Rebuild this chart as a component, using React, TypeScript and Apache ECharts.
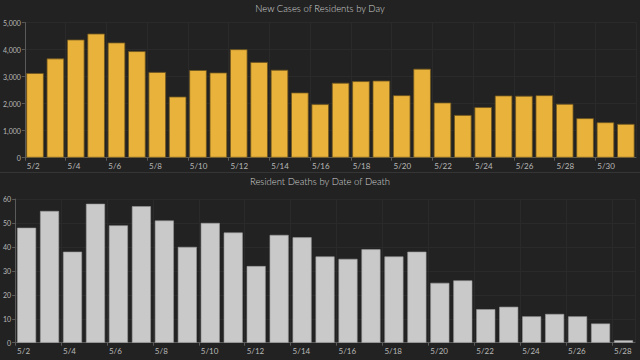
import React, { useEffect, useRef } from "react";
import * as echarts from "echarts";

const caseDates = [
  "5/2","5/3","5/4","5/5","5/6","5/7","5/8","5/9","5/10","5/11",
  "5/12","5/13","5/14","5/15","5/16","5/17","5/18","5/19","5/20","5/21",
  "5/22","5/23","5/24","5/25","5/26","5/27","5/28","5/29","5/30","5/31",
];
const newCases = [
  3130, 3670, 4370, 4590, 4260, 3940, 3170, 2260, 3240, 3150,
  4010, 3540, 3250, 2410, 1980, 2770, 2830, 2850, 2310, 3290,
  2040, 1580, 1870, 2300, 2290, 2310, 1990, 1460, 1310, 1250,
];
const deathDates = [
  "5/2","5/3","5/4","5/5","5/6","5/7","5/8","5/9","5/10","5/11",
  "5/12","5/13","5/14","5/15","5/16","5/17","5/18","5/19","5/20","5/21",
  "5/22","5/23","5/24","5/25","5/26","5/27","5/28",
];
const deaths = [
  48, 55, 38, 58, 49, 57, 51, 40, 50, 46,
  32, 45, 44, 36, 35, 39, 36, 38, 25, 26,
  14, 15, 11, 12, 11, 8, 1,
];

const FONT = "Lato, 'Open Sans', sans-serif";
const LABEL = "#b8b8b8";
const AXIS = "#5a5a5a";
const GRID = "#2a2a2a";

export default function App() {
  const ref = useRef<HTMLDivElement>(null);
  useEffect(() => {
    if (!ref.current) return;
    const chart = echarts.init(ref.current, null, { renderer: "svg" });
    const xAxisBase = (dates: string[], gridIndex: number) => ({
      type: "value",
      gridIndex,
      min: 0,
      max: dates.length,
      interval: 2,
      axisLine: { show: true, lineStyle: { color: AXIS, width: 1 } },
      axisTick: { show: true, length: 3, lineStyle: { color: AXIS } },
      splitLine: { show: true, lineStyle: { color: GRID, width: 1 } },
      axisLabel: {
        show: true,
        color: LABEL,
        fontSize: 8,
        fontFamily: FONT,
        align: "left",
        margin: 4,
        padding: [0, 0, 0, 2],
        showMaxLabel: false,
        formatter: (v: number) => (dates[v] !== undefined ? dates[v] : ""),
      },
    });
    const yAxisBase = (max: number, interval: number, gridIndex: number, fmt: (v: number) => string) => ({
      type: "value",
      gridIndex,
      min: 0,
      max,
      interval,
      axisLine: { show: true, lineStyle: { color: AXIS, width: 1 } },
      axisTick: { show: true, length: 3, lineStyle: { color: AXIS } },
      splitLine: { show: true, lineStyle: { color: GRID, width: 1 } },
      axisLabel: {
        color: LABEL,
        fontSize: 7,
        fontFamily: FONT,
        margin: 4,
        formatter: fmt,
      },
    });
    chart.setOption({
      animation: false,
      backgroundColor: "#222222",
      title: [
        {
          text: "New Cases of Residents by Day",
          left: "center",
          top: 3,
          padding: 0,
          textStyle: { color: "#d2d2d2", fontSize: 9.5, fontWeight: 300, fontFamily: FONT },
        },
        {
          text: "Resident Deaths by Date of Death",
          left: "center",
          top: 176,
          padding: 0,
          textStyle: { color: "#d2d2d2", fontSize: 9.5, fontWeight: 300, fontFamily: FONT },
        },
      ],
      graphic: [
        {
          type: "line",
          shape: { x1: 0, y1: 172.5, x2: 640, y2: 172.5 },
          style: { stroke: "#353535", lineWidth: 1 },
          silent: true,
        },
      ],
      grid: [
        { left: 20, right: 4, top: 22.5, bottom: 202.3 },
        { left: 13, right: 5, top: 199, bottom: 17.3 },
      ],
      xAxis: [xAxisBase(caseDates, 0), xAxisBase(deathDates, 1)],
      yAxis: [
        yAxisBase(5000, 1000, 0, (v: number) => v.toLocaleString("en-US")),
        yAxisBase(60, 10, 1, (v: number) => String(v)),
      ],
      series: [
        {
          type: "bar",
          xAxisIndex: 0,
          yAxisIndex: 0,
          barWidth: 17.5,
          data: newCases.map((v, i) => [i + 0.5, v]),
          itemStyle: { color: "#e9b23a", borderColor: "#6e5520", borderWidth: 0.8 },
        },
        {
          type: "bar",
          xAxisIndex: 1,
          yAxisIndex: 1,
          barWidth: 19,
          data: deaths.map((v, i) => [i + 0.5, v]),
          itemStyle: { color: "#c9c9c9", borderColor: "#9a9a9a", borderWidth: 0.6 },
        },
      ],
    });
    return () => chart.dispose();
  }, []);
  return <div ref={ref} style={{ width: 640, height: 360, position: "fixed", left: 0, top: 0 }} />;
}
